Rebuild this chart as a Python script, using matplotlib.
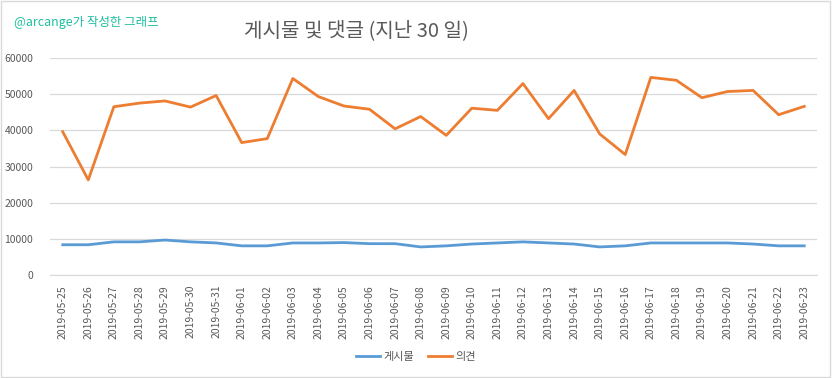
import matplotlib
matplotlib.use('Agg')
import matplotlib.pyplot as plt
from matplotlib.patches import Rectangle

plt.rcParams['font.family'] = ['Noto Sans CJK KR', 'DejaVu Sans']

dates = ['2019-05-25', '2019-05-26', '2019-05-27', '2019-05-28', '2019-05-29',
         '2019-05-30', '2019-05-31', '2019-06-01', '2019-06-02', '2019-06-03',
         '2019-06-04', '2019-06-05', '2019-06-06', '2019-06-07', '2019-06-08',
         '2019-06-09', '2019-06-10', '2019-06-11', '2019-06-12', '2019-06-13',
         '2019-06-14', '2019-06-15', '2019-06-16', '2019-06-17', '2019-06-18',
         '2019-06-19', '2019-06-20', '2019-06-21', '2019-06-22', '2019-06-23']
posts = [8400, 8400, 9200, 9200, 9700, 9200, 8900, 8100, 8100, 8900,
         8900, 9000, 8700, 8700, 7800, 8100, 8600, 8900, 9200, 8900,
         8600, 7800, 8100, 8900, 8900, 8900, 8900, 8600, 8100, 8100]
comments = [39600, 26300, 46500, 47500, 48100, 46400, 49600, 36600, 37700, 54300,
            49300, 46700, 45800, 40400, 43800, 38600, 46100, 45500, 52900, 43200,
            51000, 39000, 33300, 54600, 53800, 49000, 50700, 51000, 44300, 46600]
yticks = [0, 10000, 20000, 30000, 40000, 50000, 60000]

grey = '#595959'

fig = plt.figure(figsize=(8.32, 3.78), dpi=100)
fig.patches.append(Rectangle((0.001, 0.002), 0.997, 0.995, transform=fig.transFigure,
                             fill=False, edgecolor='#D9D9D9', linewidth=1))

ax = fig.add_axes([0.060, 0.272, 0.922, 0.575])
x = list(range(len(dates)))
ax.plot(x, posts, color='#5B9BD5', linewidth=2, label='게시물')
ax.plot(x, comments, color='#ED7D31', linewidth=2, label='의견')

ax.set_xlim(-0.5, len(dates) - 0.5)
ax.set_ylim(0, 60000)
ax.set_yticks(yticks)
ax.set_yticklabels([str(v) for v in yticks])
ax.set_xticks(x)
ax.set_xticklabels(dates, rotation=90)
ax.tick_params(axis='both', length=0, colors=grey, labelsize=7.5)
ax.tick_params(axis='y', pad=12)
ax.tick_params(axis='x', pad=7)
ax.grid(axis='y', color='#D9D9D9', linewidth=0.9)
ax.set_axisbelow(True)
for s in ['top', 'right', 'left']:
    ax.spines[s].set_visible(False)
ax.spines['bottom'].set_color('#D9D9D9')

fig.text(0.429, 0.918, '게시물 및 댓글 (지난 30 일)', ha='center', va='center',
         fontsize=14.5, color=grey)
fig.text(0.017, 0.94, '@arcange가 작성한 그래프', ha='left', va='center',
         fontsize=9, color='#1FBFA0')

fig.legend(loc='center', bbox_to_anchor=(0.5, 0.055), ncol=2, frameon=False,
           fontsize=8, labelcolor=grey, handlelength=2.2, columnspacing=1.2,
           handletextpad=0.3)

fig.savefig('out.png', dpi=100)
